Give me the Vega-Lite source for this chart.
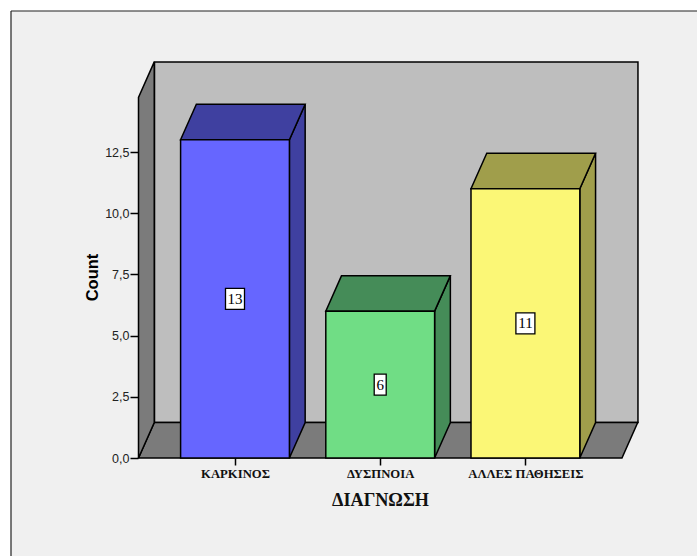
{
  "$schema": "https://vega.github.io/schema/vega-lite/v6.json",
  "width": 686,
  "height": 545,
  "autosize": "none",
  "padding": {"left": 11, "top": 11, "right": 0, "bottom": 0},
  "background": "#ffffff",
  "view": {"fill": "#f0f0f0", "stroke": null},
  "datasets": {
    "counts": [
      {"diagnosis": "ΚΑΡΚΙΝΟΣ", "slot": 0, "count": 13},
      {"diagnosis": "ΔΥΣΠΝΟΙΑ", "slot": 1, "count": 6},
      {"diagnosis": "ΑΛΛΕΣ ΠΑΘΗΣΕΙΣ", "slot": 2, "count": 11}
    ],
    "room": [{"wall": "pseudo-3D room"}]
  },
  "layer": [
    {
      "description": "back wall, carries both axes",
      "data": {"name": "room"},
      "mark": {"type": "rect", "fill": "#bebebe", "stroke": "#000000", "strokeWidth": 1.5},
      "encoding": {
        "x": {
          "datum": -0.5544, "type": "quantitative",
          "scale": {"domain": [-1.5427, 3.1818], "nice": false, "zero": false},
          "axis": {
            "values": [0, 1, 2], "offset": -98, "orient": "bottom", "grid": false, "domain": false,
            "labelExpr": "['ΚΑΡΚΙΝΟΣ','ΔΥΣΠΝΟΙΑ','ΑΛΛΕΣ ΠΑΘΗΣΕΙΣ'][datum.value]",
            "labelFont": "Liberation Serif", "labelFontWeight": "bold", "labelFontSize": 12.7, "labelColor": "#111111",
            "labelPadding": 2, "labelFlush": false, "labelOverlap": false,
            "tickSize": 7, "tickColor": "#000000", "tickWidth": 1.5,
            "title": "ΔΙΑΓΝΩΣΗ", "titleFont": "Liberation Serif", "titleFontWeight": "bold", "titleFontSize": 18.2,
            "titleColor": "#111111", "titleX": 369, "titleY": 42, "titleAlign": "center", "titleBaseline": "middle"
          }
        },
        "x2": {"datum": 2.7752},
        "y": {
          "datum": 1.45, "type": "quantitative",
          "scale": {"domain": [-4.003, 18.26], "nice": false, "zero": false},
          "axis": {
            "values": [0, 2.5, 5, 7.5, 10, 12.5], "offset": -127, "orient": "left", "grid": false, "domain": false,
            "labelExpr": "replace(format(datum.value,'.1f'),'.',',')",
            "labelFont": "Liberation Sans", "labelFontSize": 12.5, "labelColor": "#222222", "labelPadding": 1,
            "tickSize": 8, "tickColor": "#000000", "tickWidth": 1.5,
            "title": "Count", "titleFont": "Liberation Sans", "titleFontWeight": "bold", "titleFontSize": 16.5,
            "titleColor": "#000000", "titleAngle": -90, "titleX": -46, "titleY": 266, "titleAlign": "center", "titleBaseline": "middle"
          }
        },
        "y2": {"datum": 16.18}
      }
    },
    {
      "description": "chart frame, top edge",
      "data": {"name": "room"},
      "mark": {"type": "rule", "stroke": "#222222", "strokeWidth": 1.2},
      "encoding": {
        "x": {"datum": -1.5427, "type": "quantitative", "scale": {"domain": [-1.5427, 3.1818], "nice": false, "zero": false}},
        "x2": {"datum": 3.1818},
        "y": {"datum": 18.26, "type": "quantitative", "scale": {"domain": [-4.003, 18.26], "nice": false, "zero": false}}
      }
    },
    {
      "description": "chart frame, left edge",
      "data": {"name": "room"},
      "mark": {"type": "rule", "stroke": "#222222", "strokeWidth": 1.2},
      "encoding": {
        "x": {"datum": -1.5427, "type": "quantitative", "scale": {"domain": [-1.5427, 3.1818], "nice": false, "zero": false}},
        "y": {"datum": -4.003, "type": "quantitative", "scale": {"domain": [-4.003, 18.26], "nice": false, "zero": false}},
        "y2": {"datum": 18.26}
      }
    },
    {
      "description": "floor",
      "data": {"name": "room"},
      "transform": [
        {"calculate": "[0,1]", "as": "depth"},
        {"flatten": ["depth"]},
        {"calculate": "-0.6646 + datum.depth * 0.1085", "as": "x0"},
        {"calculate": "2.665 + datum.depth * 0.1085", "as": "x1"},
        {"calculate": "datum.depth * 1.45", "as": "y0"}
      ],
      "mark": {"type": "area", "orient": "horizontal", "fill": "#7b7b7b", "stroke": "#000000", "strokeWidth": 1.5},
      "encoding": {
        "x": {"field": "x0", "type": "quantitative", "scale": {"domain": [-1.5427, 3.1818], "nice": false, "zero": false}},
        "x2": {"field": "x1"},
        "y": {"field": "y0", "type": "quantitative", "scale": {"domain": [-4.003, 18.26], "nice": false, "zero": false}}
      }
    },
    {
      "description": "left wall",
      "data": {"name": "room"},
      "transform": [
        {"calculate": "[0,1]", "as": "depth"},
        {"flatten": ["depth"]},
        {"calculate": "-0.6646 + datum.depth * 0.1085", "as": "x0"},
        {"calculate": "datum.depth * 1.45", "as": "y0"},
        {"calculate": "14.73 + datum.depth * 1.45", "as": "y1"}
      ],
      "mark": {"type": "area", "orient": "vertical", "fill": "#7b7b7b", "stroke": "#000000", "strokeWidth": 1.5},
      "encoding": {
        "x": {"field": "x0", "type": "quantitative", "scale": {"domain": [-1.5427, 3.1818], "nice": false, "zero": false}},
        "y": {"field": "y0", "type": "quantitative", "scale": {"domain": [-4.003, 18.26], "nice": false, "zero": false}},
        "y2": {"field": "y1"}
      }
    },
    {
      "description": "bar side faces",
      "data": {"name": "counts"},
      "transform": [
        {"calculate": "[0,1]", "as": "depth"},
        {"flatten": ["depth"]},
        {"calculate": "datum.diagnosis + ' shade'", "as": "face"},
        {"calculate": "datum.slot + 0.3747 + datum.depth * 0.1085", "as": "x0"},
        {"calculate": "datum.depth * 1.45", "as": "y0"},
        {"calculate": "datum.count + datum.depth * 1.45", "as": "y1"}
      ],
      "mark": {"type": "area", "orient": "vertical", "stroke": "#000000", "strokeWidth": 1.5, "fillOpacity": 1},
      "encoding": {
        "x": {"field": "x0", "type": "quantitative", "scale": {"domain": [-1.5427, 3.1818], "nice": false, "zero": false}},
        "y": {"field": "y0", "type": "quantitative", "scale": {"domain": [-4.003, 18.26], "nice": false, "zero": false}},
        "y2": {"field": "y1"},
        "color": {
          "field": "face", "type": "nominal", "legend": null,
          "scale": {
            "domain": ["ΚΑΡΚΙΝΟΣ", "ΔΥΣΠΝΟΙΑ", "ΑΛΛΕΣ ΠΑΘΗΣΕΙΣ", "ΚΑΡΚΙΝΟΣ shade", "ΔΥΣΠΝΟΙΑ shade", "ΑΛΛΕΣ ΠΑΘΗΣΕΙΣ shade"],
            "range": ["#6666ff", "#70dd85", "#fbf776", "#3f40a0", "#458c58", "#a09e4b"]
          }
        }
      }
    },
    {
      "description": "bar top faces",
      "data": {"name": "counts"},
      "transform": [
        {"calculate": "[0,1]", "as": "depth"},
        {"flatten": ["depth"]},
        {"calculate": "datum.diagnosis + ' shade'", "as": "face"},
        {"calculate": "datum.slot - 0.3747 + datum.depth * 0.1085", "as": "x0"},
        {"calculate": "datum.slot + 0.3747 + datum.depth * 0.1085", "as": "x1"},
        {"calculate": "datum.count + datum.depth * 1.45", "as": "y0"}
      ],
      "mark": {"type": "area", "orient": "horizontal", "stroke": "#000000", "strokeWidth": 1.5, "fillOpacity": 1},
      "encoding": {
        "x": {"field": "x0", "type": "quantitative", "scale": {"domain": [-1.5427, 3.1818], "nice": false, "zero": false}},
        "x2": {"field": "x1"},
        "y": {"field": "y0", "type": "quantitative", "scale": {"domain": [-4.003, 18.26], "nice": false, "zero": false}},
        "color": {
          "field": "face", "type": "nominal", "legend": null,
          "scale": {
            "domain": ["ΚΑΡΚΙΝΟΣ", "ΔΥΣΠΝΟΙΑ", "ΑΛΛΕΣ ΠΑΘΗΣΕΙΣ", "ΚΑΡΚΙΝΟΣ shade", "ΔΥΣΠΝΟΙΑ shade", "ΑΛΛΕΣ ΠΑΘΗΣΕΙΣ shade"],
            "range": ["#6666ff", "#70dd85", "#fbf776", "#3f40a0", "#458c58", "#a09e4b"]
          }
        }
      }
    },
    {
      "description": "bar front faces",
      "data": {"name": "counts"},
      "transform": [
        {"calculate": "datum.slot - 0.3747", "as": "x0"},
        {"calculate": "datum.slot + 0.3747", "as": "x1"},
        {"calculate": "0", "as": "base"}
      ],
      "mark": {"type": "rect", "stroke": "#000000", "strokeWidth": 1.5, "fillOpacity": 1},
      "encoding": {
        "x": {"field": "x0", "type": "quantitative", "scale": {"domain": [-1.5427, 3.1818], "nice": false, "zero": false}},
        "x2": {"field": "x1"},
        "y": {"field": "base", "type": "quantitative", "scale": {"domain": [-4.003, 18.26], "nice": false, "zero": false}},
        "y2": {"field": "count"},
        "color": {
          "field": "diagnosis", "type": "nominal", "legend": null,
          "scale": {
            "domain": ["ΚΑΡΚΙΝΟΣ", "ΔΥΣΠΝΟΙΑ", "ΑΛΛΕΣ ΠΑΘΗΣΕΙΣ", "ΚΑΡΚΙΝΟΣ shade", "ΔΥΣΠΝΟΙΑ shade", "ΑΛΛΕΣ ΠΑΘΗΣΕΙΣ shade"],
            "range": ["#6666ff", "#70dd85", "#fbf776", "#3f40a0", "#458c58", "#a09e4b"]
          }
        }
      }
    },
    {
      "description": "value label boxes, narrower for one-digit counts",
      "data": {"name": "counts"},
      "transform": [{"calculate": "datum.count / 2", "as": "mid"}],
      "mark": {"type": "rect", "fill": "#ffffff", "stroke": "#000000", "strokeWidth": 1.3, "width": {"expr": "datum.count > 9 ? 19 : 12"}, "height": 21},
      "encoding": {
        "x": {"field": "slot", "type": "quantitative", "scale": {"domain": [-1.5427, 3.1818], "nice": false, "zero": false}},
        "y": {"field": "mid", "type": "quantitative", "scale": {"domain": [-4.003, 18.26], "nice": false, "zero": false}}
      }
    },
    {
      "description": "value labels",
      "data": {"name": "counts"},
      "transform": [{"calculate": "datum.count / 2", "as": "mid"}],
      "mark": {"type": "text", "font": "Liberation Serif", "fontSize": 15, "color": "#000000", "align": "center", "baseline": "middle"},
      "encoding": {
        "x": {"field": "slot", "type": "quantitative", "scale": {"domain": [-1.5427, 3.1818], "nice": false, "zero": false}},
        "y": {"field": "mid", "type": "quantitative", "scale": {"domain": [-4.003, 18.26], "nice": false, "zero": false}},
        "text": {"field": "count", "type": "quantitative"}
      }
    }
  ]
}
